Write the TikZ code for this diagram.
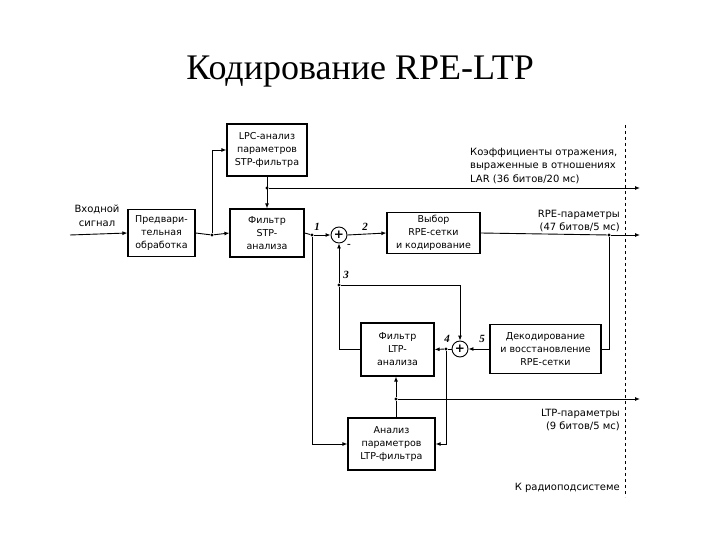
\documentclass[tikz,border=0pt]{standalone}
\usepackage{fontspec}
\setmainfont{Liberation Serif}
\setsansfont{DejaVu Sans}
\usetikzlibrary{arrows.meta,calc,positioning}

\begin{document}
\begin{tikzpicture}[x=1pt,y=-1pt,inner sep=0.4mm,
  blk/.style={draw,line width=1.2pt,align=center,font=\sffamily\fontsize{9.5}{13}\selectfont},
  sumnode/.style={draw,circle,line width=0.9pt,minimum size=16pt,inner sep=0pt,font=\sffamily\bfseries\fontsize{12}{12}\selectfont},
  jdot/.style={circle,fill,inner sep=0pt,minimum size=3.2pt},
  arr/.style={-{Latex[length=5pt,width=4pt]}},
  wire/.style={line width=0.9pt},
  txt/.style={font=\sffamily\fontsize{10}{13.5}\selectfont},
  num/.style={font=\bfseries\itshape\fontsize{11}{11}\selectfont}]

\useasboundingbox (0,0) rectangle (720,540);

% title
\node[font=\fontsize{36}{36}\selectfont] (title) at (360,72) {Кодирование RPE-LTP};

% blocks
\node[blk,minimum width=67pt,minimum height=47pt] (pre) at (161.5,233) {Предвари-\\тельная\\обработка};
\node[blk,minimum width=80pt,minimum height=52pt] (lpc) at (267,150) {LPC-анализ\\параметров\\STP-фильтра};
\node[blk,minimum width=74pt,minimum height=48pt] (stp) at (267,233) {Фильтр\\STP-\\анализа};
\node[blk,minimum width=93pt,minimum height=41pt] (sel) at (433.5,233) {Выбор\\RPE-сетки\\и кодирование};
\node[blk,minimum width=111pt,minimum height=49pt] (dec) at (545.5,349) {Декодирование\\и восстановление\\RPE-сетки};
\node[blk,minimum width=73pt,minimum height=53pt] (ltpf) at (397.5,349.5) {Фильтр\\LTP-\\анализа};
\node[blk,minimum width=87pt,minimum height=52pt] (ana) at (391.5,444) {Анализ\\параметров\\LTP-фильтра};

\node[sumnode] (s1) at (339,235) {+};
\node[sumnode] (s2) at (460,349) {+};

% junctions and free ends
\node[jdot] (j0) at (212,235) {};
\node[jdot] (j1) at (312,235) {};
\node[jdot] (j3) at (339,285) {};
\node[jdot] (j4) at (446,349) {};
\node[jdot] (jr) at (609,235) {};
\node[jdot] (jlar) at (267,188) {};
\node[jdot] (jltp) at (396,399) {};
\coordinate (in) at (70,235);
\coordinate (outlar) at (640,188);
\coordinate (outrpe) at (640,235);
\coordinate (outltp) at (640,399);

% connections
\draw[wire,arr] (in) -- (pre.west);
\draw[wire] (pre.east) -- (j0);
\draw[wire,arr] (j0) -- (stp.west);
\draw[wire,arr] (j0) |- (lpc.west);
\draw[wire,arr] (lpc.south) -- (stp.north);
\draw[wire,arr] (jlar) -- (outlar);
\draw[wire] (stp.east) -- (j1);
\draw[wire,arr] (j1) -- (s1.west);
\draw[wire,arr] (s1.east) -- (sel.west);
\draw[wire] (sel.east) -- (jr);
\draw[wire,arr] (jr) -- (outrpe);
\draw[wire] (jr) |- (dec.east);
\draw[wire,arr] (dec.west) -- (s2.east);
\draw[wire] (s2.west) -- (j4);
\draw[wire,arr] (j4) -- (ltpf.east);
\draw[wire,arr] (j4) |- (ana.east);
\draw[wire,arr] (j3) -- (s1.south);
\draw[wire] (j3) |- (ltpf.west);
\draw[wire,arr] (j3) -| (s2.north);
\draw[wire,arr] (j1) |- (ana.west);
\draw[wire] (ana.north -| jltp) -- (jltp);
\draw[wire,arr] (jltp) -- (jltp |- ltpf.south);
\draw[wire,arr] (jltp) -- (outltp);

\draw[line width=0.8pt,dashed] (625,125) -- (625,497);

% labels
\node[txt,align=center] (insig) at (97,216) {Входной\\сигнал};
\node[txt,align=left,anchor=west,inner sep=0pt] (lartxt) at (470,166) {Коэффициенты отражения,\\выраженные в отношениях\\LAR (36 битов/20 мс)};
\node[txt,align=right,anchor=east,inner sep=0pt] (rpetxt) at (620,221) {RPE-параметры\\(47 битов/5 мс)};
\node[txt,align=right,anchor=east,inner sep=0pt] (ltptxt) at (620,420) {LTP-параметры\\(9 битов/5 мс)};
\node[txt,anchor=east,inner sep=0pt] (radio) at (620,488) {К радиоподсистеме};

\node[num] (n1) at (317,227) {1};
\node[num] (n2) at (365,227) {2};
\node[num] (n3) at (346,275) {3};
\node[num] (n4) at (447,339) {4};
\node[num] (n5) at (482,339) {5};
\node[font=\bfseries\fontsize{11}{11}\selectfont] (minus) at (349,246) {-};

\end{tikzpicture}
\end{document}
